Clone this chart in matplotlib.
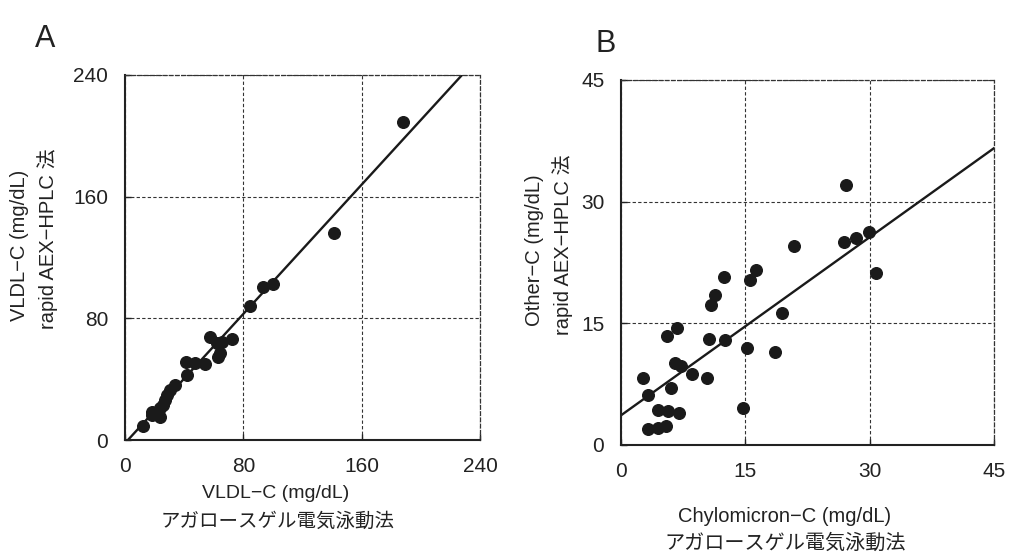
import matplotlib.pyplot as plt
import numpy as np

plt.rcParams['font.family'] = ['Liberation Sans', 'Noto Sans CJK JP', 'DejaVu Sans']

# Panel A: VLDL-C (agarose gel vs rapid AEX-HPLC)
vldl_x = [188, 141.3, 84.5, 93.3, 100.1, 57.5, 62.2, 65.6, 72.3, 62.9, 64.2,
          41.2, 47.3, 54.1, 41.9, 33.8, 30.4, 28.4, 27.0, 25.7, 23.7, 18.3,
          21.6, 23.7, 18.3, 12.2]
vldl_y = [209, 136.2, 88.2, 100.7, 102.6, 67.8, 63.8, 64.5, 66.4, 54.6, 57.2,
          51.3, 50.7, 50.0, 42.8, 36.2, 32.9, 29.6, 26.3, 23.0, 21.1, 18.4,
          17.8, 15.1, 16.4, 9.2]
vldl_fit = (1.0625, -2.1)

# Panel B: Chylomicron-C vs Other-C
chylo_x = [27.1, 20.9, 26.9, 28.4, 29.9, 30.8, 16.3, 15.6, 12.4, 11.3, 10.9,
           19.4, 6.7, 5.5, 10.6, 12.6, 15.2, 18.6, 6.5, 7.2, 8.6, 10.4, 2.7,
           6.0, 3.3, 4.5, 5.7, 7.0, 14.7, 3.3, 4.5, 5.4]
other_y = [32.1, 24.5, 25.0, 25.5, 26.3, 21.2, 21.6, 20.4, 20.7, 18.5, 17.3,
           16.3, 14.4, 13.4, 13.1, 12.9, 12.0, 11.5, 10.1, 9.8, 8.8, 8.2, 8.3,
           7.0, 6.2, 4.3, 4.2, 3.9, 4.5, 2.0, 2.1, 2.3]
chylo_fit = (0.732, 3.66)

fig = plt.figure(figsize=(10.09, 5.55), dpi=100)
axA = fig.add_axes([0.1239, 0.2072, 0.3518, 0.6577])
axB = fig.add_axes([0.6155, 0.1982, 0.3697, 0.6577])

def style_axes(ax, lim, step):
    ax.set_xlim(0, lim)
    ax.set_ylim(0, lim)
    ticks = np.arange(0, lim + 1, step)
    ax.set_xticks(ticks)
    ax.set_yticks(ticks)
    ax.grid(True, color='#333333', linestyle=(0, (3, 2)), linewidth=0.8)
    for s in ['left', 'bottom']:
        ax.spines[s].set_linewidth(1.5)
        ax.spines[s].set_color('#222222')
    for s in ['top', 'right']:
        ax.spines[s].set_linestyle((0, (3, 2)))
        ax.spines[s].set_linewidth(0.9)
        ax.spines[s].set_color('#333333')
    ax.tick_params(direction='in', length=4, width=1, labelsize=15, colors='#222222')
    ax.tick_params(axis='x', pad=12)
    ax.tick_params(axis='y', pad=12)
    ax.set_axisbelow(True)

style_axes(axA, 240, 80)
style_axes(axB, 45, 15)

axA.scatter(vldl_x, vldl_y, s=70, color='#1a1a1a', zorder=3, clip_on=False)
xx = np.array([0, 240])
axA.plot(xx, vldl_fit[0] * xx + vldl_fit[1], color='#1a1a1a', linewidth=1.7, zorder=2)

axB.scatter(chylo_x, other_y, s=70, color='#1a1a1a', zorder=3, clip_on=False)
xx = np.array([0, 45])
axB.plot(xx, chylo_fit[0] * xx + chylo_fit[1], color='#1a1a1a', linewidth=1.7, zorder=2)

# panel letters
fig.text(0.035, 0.93, 'A', fontsize=22, color='#222222', va='center')
fig.text(0.59, 0.92, 'B', fontsize=22, color='#222222', va='center')

# y labels
fig.text(0.0198, 0.5586, 'VLDL−C (mg/dL)', rotation=90, fontsize=14.5,
         ha='center', va='center', color='#222222')
fig.text(0.0476, 0.5694, 'rapid AEX−HPLC 法', rotation=90, fontsize=14.5,
         ha='center', va='center', color='#222222')
fig.text(0.530, 0.5495, 'Other−C (mg/dL)', rotation=90, fontsize=14.5,
         ha='center', va='center', color='#222222')
fig.text(0.5575, 0.5586, 'rapid AEX−HPLC 法', rotation=90, fontsize=14.5,
         ha='center', va='center', color='#222222')

# x labels
fig.text(0.2735, 0.1117, 'VLDL−C (mg/dL)', fontsize=14, ha='center', va='center', color='#222222')
fig.text(0.2755, 0.0595, 'アガロースゲル電気泳動法', fontsize=14, ha='center', va='center', color='#222222')
fig.text(0.778, 0.0685, 'Chylomicron−C (mg/dL)', fontsize=14.5, ha='center', va='center', color='#222222')
fig.text(0.778, 0.0216, 'アガロースゲル電気泳動法', fontsize=14.5, ha='center', va='center', color='#222222')

fig.savefig('out.png', dpi=100)
